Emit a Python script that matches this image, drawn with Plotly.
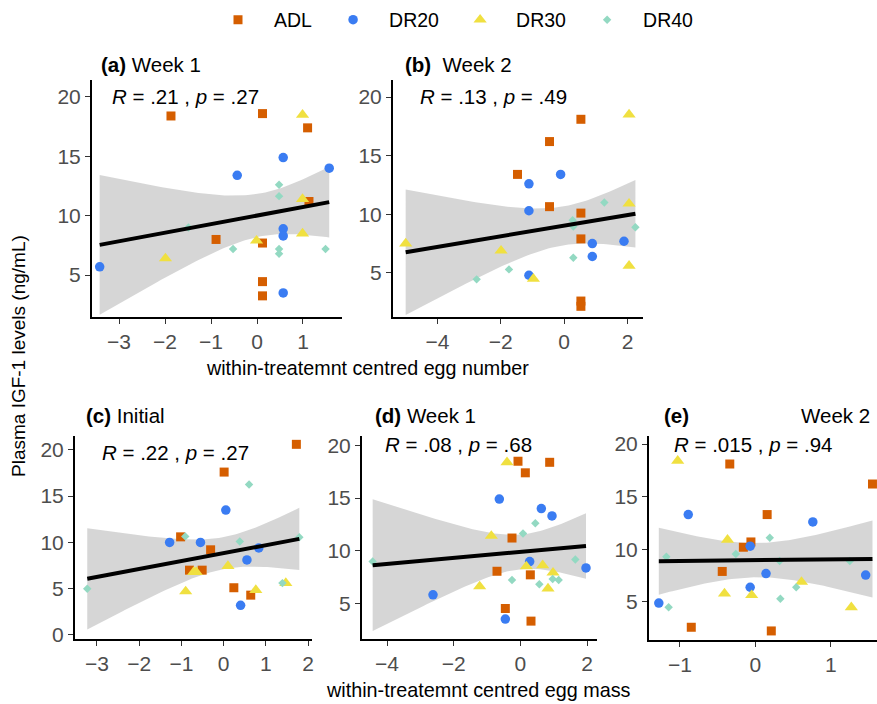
import numpy as np
import plotly.graph_objects as go

W, H = 877, 704

# ---------------- data ----------------
groups = ["ADL", "DR20", "DR30", "DR40"]
colors = {"ADL": "#D55E00", "DR20": "#3A7CF2", "DR30": "#F0E040", "DR40": "#93D9C2"}
symbols = {"ADL": "square", "DR20": "circle", "DR30": "triangle-up", "DR40": "diamond"}
msizes = {"ADL": 9, "DR20": 9.5, "DR30": 11.5, "DR40": 6.5}

# (a) egg number, week 1
a_adl_x = [-1.87, 0.12, 1.10, 1.13, -0.89, 0.12, 0.12, 0.12]
a_adl_y = [18.4, 18.6, 17.4, 11.2, 8.0, 7.7, 4.45, 3.25]
a_dr20_x = [-3.42, -0.43, 0.57, 1.57, 0.57, 0.57, 0.57]
a_dr20_y = [5.7, 13.4, 14.9, 14.0, 8.9, 8.3, 3.5]
a_dr30_x = [-1.99, -0.01, 0.99, 0.99, 0.99]
a_dr30_y = [6.4, 7.9, 18.5, 11.4, 8.5]
a_dr40_x = [-1.49, -0.52, 0.48, 0.48, 0.48, 0.48, 1.49]
a_dr40_y = [9.0, 7.2, 12.6, 11.65, 7.2, 6.8, 7.2]

# (b) egg number, week 2
b_adl_x = [-1.47, -0.46, -0.46, 0.53, 0.53, 0.53, 0.53, 0.53]
b_adl_y = [13.4, 16.2, 10.65, 18.1, 10.1, 7.9, 2.6, 2.15]
b_dr20_x = [-1.11, -1.11, -0.11, 0.89, 0.89, 1.89, -1.11]
b_dr20_y = [12.6, 10.3, 13.4, 7.5, 6.4, 7.7, 4.8]
b_dr30_x = [-5.0, -1.99, -0.97, 2.05, 2.05, 2.05]
b_dr30_y = [7.5, 6.9, 4.5, 18.5, 10.9, 5.6]
b_dr40_x = [-2.76, -1.74, 0.27, 0.29, 0.29, 1.27, 2.25]
b_dr40_y = [4.45, 5.3, 9.5, 8.95, 6.3, 11.0, 8.9]

# (c) egg mass, initial
c_adl_x = [1.72, 0.01, -1.02, -0.31, -0.81, -0.51, 0.24, 0.64]
c_adl_y = [20.6, 17.6, 10.6, 9.2, 7.0, 7.0, 5.1, 4.3]
c_dr20_x = [-1.28, -0.55, 0.05, 0.83, 0.55, 0.40]
c_dr20_y = [10.0, 10.0, 13.5, 9.4, 8.1, 3.2]
c_dr30_x = [-0.90, -0.71, -0.65, 0.10, 0.76, 1.47]
c_dr30_y = [4.7, 6.8, 6.8, 7.45, 4.85, 5.6]
c_dr40_x = [-3.23, -0.91, 0.38, 0.60, 1.39, 1.79]
c_dr40_y = [5.0, 10.65, 10.1, 16.25, 5.6, 10.55]

# (d) egg mass, week 1
d_adl_x = [-0.07, 0.15, 0.88, -0.25, -0.70, 0.30, -0.45, 0.32]
d_adl_y = [18.5, 17.4, 18.4, 11.2, 8.04, 7.7, 4.5, 3.3]
d_dr20_x = [-2.62, -0.63, 0.63, 0.95, 0.28, 1.97, -0.45]
d_dr20_y = [5.8, 14.9, 14.0, 13.3, 8.96, 8.36, 3.5]
d_dr30_x = [-1.22, -0.87, -0.40, 0.18, 0.67, 0.98, 0.83]
d_dr30_y = [6.6, 11.4, 18.4, 8.5, 8.6, 7.9, 6.4]
d_dr40_x = [-4.43, -0.25, 0.08, 0.45, 0.57, 0.97, 1.15, 1.65]
d_dr40_y = [8.96, 7.2, 11.64, 12.6, 6.8, 7.3, 7.2, 9.15]

# (e) egg mass, week 2
e_adl_x = [-0.34, 0.155, 1.55, -0.06, -0.16, -0.44, -0.85, 0.21]
e_adl_y = [18.1, 13.3, 16.2, 10.7, 10.2, 7.9, 2.6, 2.25]
e_dr20_x = [-1.28, -0.89, -0.07, -0.07, 0.14, 0.76, 1.46]
e_dr20_y = [4.9, 13.3, 10.3, 6.4, 7.7, 12.6, 7.55]
e_dr30_x = [-1.03, -0.37, -0.41, -0.05, 0.61, 1.27]
e_dr30_y = [18.4, 10.9, 5.8, 5.65, 6.9, 4.5]
e_dr40_x = [-1.18, -1.15, -0.26, 0.19, 0.32, 0.33, 0.54, 1.25]
e_dr40_y = [9.3, 4.5, 9.55, 11.1, 8.9, 5.3, 6.4, 8.9]

panel_titles = ["<b>(a)</b> Week 1", "<b>(b)</b>&nbsp; Week 2", "<b>(c)</b> Initial",
                "<b>(d)</b> Week 1", "<b>(e)</b>"]
cor_labels = ["<i>R</i> = .21 , <i>p</i> = .27", "<i>R</i> = .13 , <i>p</i> = .49",
              "<i>R</i> = .22 , <i>p</i> = .27", "<i>R</i> = .08 , <i>p</i> = .68",
              "<i>R</i> = .015 , <i>p</i> = .94"]
x_title_top = "within-treatemnt centred egg number"
x_title_bottom = "within-treatemnt centred egg mass"
y_title = "Plasma IGF-1 levels (ng/mL)"

panels = {
    "a": {"ADL": (a_adl_x, a_adl_y), "DR20": (a_dr20_x, a_dr20_y), "DR30": (a_dr30_x, a_dr30_y), "DR40": (a_dr40_x, a_dr40_y)},
    "b": {"ADL": (b_adl_x, b_adl_y), "DR20": (b_dr20_x, b_dr20_y), "DR30": (b_dr30_x, b_dr30_y), "DR40": (b_dr40_x, b_dr40_y)},
    "c": {"ADL": (c_adl_x, c_adl_y), "DR20": (c_dr20_x, c_dr20_y), "DR30": (c_dr30_x, c_dr30_y), "DR40": (c_dr40_x, c_dr40_y)},
    "d": {"ADL": (d_adl_x, d_adl_y), "DR20": (d_dr20_x, d_dr20_y), "DR30": (d_dr30_x, d_dr30_y), "DR40": (d_dr40_x, d_dr40_y)},
    "e": {"ADL": (e_adl_x, e_adl_y), "DR20": (e_dr20_x, e_dr20_y), "DR30": (e_dr30_x, e_dr30_y), "DR40": (e_dr40_x, e_dr40_y)},
}

# ---------------- layout geometry (page pixels) ----------------
# left, right, top, bottom of each panel
boxes = {"a": (92, 342, 80, 317), "b": (393, 643, 80, 317),
         "c": (75, 312, 436, 639), "d": (362, 597, 436, 639), "e": (649, 877, 436, 640)}
xranges = {"a": [-3.587, 1.848], "b": [-5.40, 2.49], "c": [-3.52, 2.09],
           "d": [-4.75, 2.30], "e": [-1.41, 1.61]}
yranges = {"a": [1.47, 21.43], "b": [1.24, 21.45], "c": [-0.44, 21.5],
           "d": [1.6, 20.9], "e": [1.39, 20.76]}
xtickvals = {"a": [-3, -2, -1, 0, 1], "b": [-4, -2, 0, 2], "c": [-3, -2, -1, 0, 1, 2],
             "d": [-4, -2, 0, 2], "e": [-1, 0, 1]}
ytickvals = {"a": [5, 10, 15, 20], "b": [5, 10, 15, 20], "c": [0, 5, 10, 15, 20],
             "d": [5, 10, 15, 20], "e": [5, 10, 15, 20]}


def px(x):
    return x / W


def py(y):
    return 1 - y / H


def tcrit(df):
    z = 1.959964
    return z + (z**3 + z) / (4 * df) + (5 * z**5 + 16 * z**3 + 3 * z) / (96 * df**2)


fig = go.Figure()
FONT = "Liberation Sans, Arial, Helvetica, sans-serif"

for i, key in enumerate(["a", "b", "c", "d", "e"]):
    xa = "x" if i == 0 else f"x{i+1}"
    ya = "y" if i == 0 else f"y{i+1}"
    data = panels[key]
    allx = np.concatenate([np.array(data[g][0], float) for g in groups])
    ally = np.concatenate([np.array(data[g][1], float) for g in groups])
    n = len(allx)
    b1, b0 = np.polyfit(allx, ally, 1)
    resid = ally - (b0 + b1 * allx)
    s = np.sqrt(np.sum(resid**2) / (n - 2))
    xm = allx.mean()
    sxx = np.sum((allx - xm) ** 2)
    xs = np.linspace(allx.min(), allx.max(), 80)
    fit = b0 + b1 * xs
    se = s * np.sqrt(1 / n + (xs - xm) ** 2 / sxx)
    t = tcrit(n - 2)
    lo, hi = fit - t * se, fit + t * se

    fig.add_trace(go.Scatter(x=np.concatenate([xs, xs[::-1]]), y=np.concatenate([hi, lo[::-1]]),
                             fill="toself", fillcolor="rgba(153,153,153,0.4)", line=dict(width=0),
                             mode="lines", hoverinfo="skip", showlegend=False, xaxis=xa, yaxis=ya))
    for g in groups:
        gx, gy = data[g]
        fig.add_trace(go.Scatter(x=gx, y=gy, mode="markers", name=g,
                                 marker=dict(color=colors[g], symbol=symbols[g], size=msizes[g],
                                             line=dict(width=0)),
                                 showlegend=(i == 0), legendgroup=g, xaxis=xa, yaxis=ya))
    fig.add_trace(go.Scatter(x=xs, y=fit, mode="lines", line=dict(color="black", width=4),
                             hoverinfo="skip", showlegend=False, xaxis=xa, yaxis=ya))

    l, r, tp, bt = boxes[key]
    axcommon = dict(showgrid=False, zeroline=False, showline=True, linecolor="black", linewidth=2,
                    ticks="outside", ticklen=5, tickwidth=1.3, tickcolor="#333333",
                    tickfont=dict(size=21, color="#4D4D4D", family=FONT), fixedrange=True)
    fig.update_layout(**{
        ("xaxis" if i == 0 else f"xaxis{i+1}"): dict(domain=[px(l), px(r)], anchor=ya,
                                                      range=xranges[key], tickvals=xtickvals[key], **axcommon),
        ("yaxis" if i == 0 else f"yaxis{i+1}"): dict(domain=[py(bt), py(tp)], anchor=xa,
                                                      range=yranges[key], tickvals=ytickvals[key], **axcommon),
    })

annotations = []
title_pos = [(99, 64), (403, 64), (84, 415), (373, 415), (662, 415)]
for txt, (x0, y0) in zip(panel_titles, title_pos):
    annotations.append(dict(text=txt, x=px(x0), y=py(y0), xref="paper", yref="paper",
                            xanchor="left", yanchor="middle", showarrow=False,
                            font=dict(size=20.5, color="black", family=FONT)))
annotations.append(dict(text="Week 2", x=px(799), y=py(415), xref="paper", yref="paper",
                        xanchor="left", yanchor="middle", showarrow=False,
                        font=dict(size=20.5, color="black", family=FONT)))
cor_pos = [(110, 96), (418, 96), (100, 452), (383, 444), (672, 444)]
for txt, (x0, y0) in zip(cor_labels, cor_pos):
    annotations.append(dict(text=txt, x=px(x0), y=py(y0), xref="paper", yref="paper",
                            xanchor="left", yanchor="middle", showarrow=False,
                            font=dict(size=20.5, color="black", family=FONT)))
annotations.append(dict(text=x_title_top, x=px(367), y=py(368), xref="paper", yref="paper",
                        xanchor="center", yanchor="middle", showarrow=False,
                        font=dict(size=19.7, color="black", family=FONT)))
annotations.append(dict(text=x_title_bottom, x=px(479), y=py(690), xref="paper", yref="paper",
                        xanchor="center", yanchor="middle", showarrow=False,
                        font=dict(size=19.8, color="black", family=FONT)))
annotations.append(dict(text=y_title, x=px(18), y=py(356), xref="paper", yref="paper",
                        xanchor="center", yanchor="middle", textangle=-90, showarrow=False,
                        font=dict(size=19, color="black", family=FONT)))

fig.update_layout(
    width=W, height=H, margin=dict(l=0, r=0, t=0, b=0, autoexpand=False),
    paper_bgcolor="white", plot_bgcolor="white",
    annotations=annotations,
    legend=dict(orientation="h", x=px(202), y=py(20), xanchor="left", yanchor="middle",
                font=dict(size=19.5, color="black", family=FONT),
                itemwidth=62, bgcolor="rgba(0,0,0,0)", tracegroupgap=0),
    font=dict(family=FONT),
)

fig.write_html("out.html")
